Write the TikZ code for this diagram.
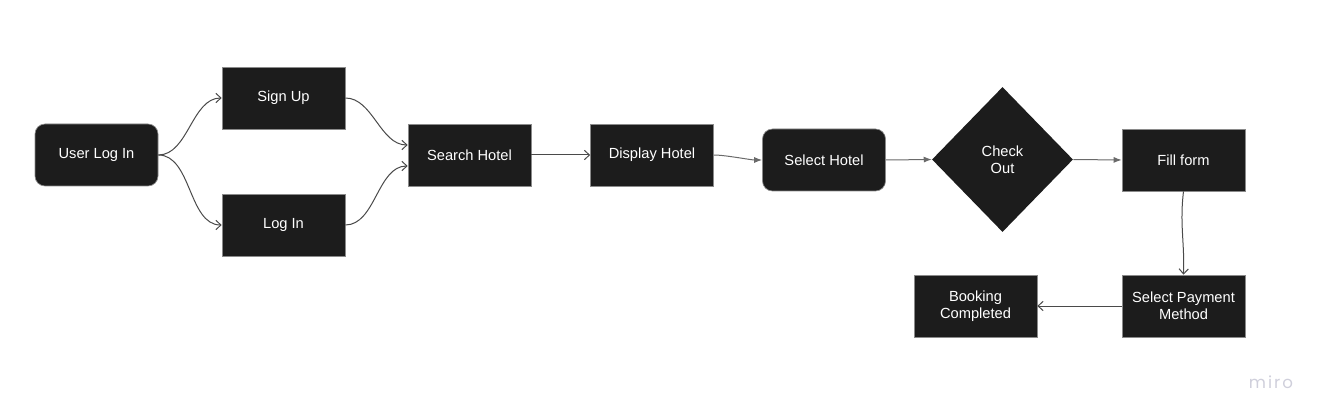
\documentclass[tikz,border=0pt]{standalone}
\usepackage{fontspec}
\setmainfont{Liberation Sans}
\newfontfamily\logofont[LetterSpace=12]{Poppins}
\usetikzlibrary{shapes.geometric,arrows.meta}
\definecolor{boxfill}{HTML}{1C1C1C}
\definecolor{boxline}{HTML}{8A8A8A}
\definecolor{linkdark}{HTML}{4A4A4A}
\definecolor{linklight}{HTML}{6A6A6A}
\definecolor{logocol}{HTML}{CFCFDB}
\tikzset{
  px/.style={x=0.75pt,y=-0.75pt},
  box/.style={draw=boxline,line width=0.5pt,fill=boxfill,text=white,
    minimum width=92.25pt,minimum height=46.5pt,inner sep=0pt,
    align=center,font=\fontsize{11}{12.5}\selectfont},
  roundbox/.style={box,rounded corners=7.5pt},
  decide/.style={diamond,fill=boxfill,text=white,inner sep=0pt,
    minimum width=105.75pt,minimum height=108.75pt,align=center,
    font=\fontsize{11}{12.5}\selectfont},
  openlink/.style={draw=linkdark,line width=0.75pt,
    -{Straight Barb[length=3.8pt,width=7pt]}},
  filledlink/.style={draw=linklight,line width=0.75pt,
    -{Latex[length=6pt,width=4.5pt]}},
}
\begin{document}
\begin{tikzpicture}[px]
\useasboundingbox (0,0) rectangle (1323,420);
\node[roundbox] (ulogin)  at (96.5,155)  {User Log In};
\node[box]      (signup)  at (283.5,98)  {Sign Up};
\node[box]      (login)   at (283.5,225) {Log In};
\node[box]      (search)  at (469.5,155) {Search Hotel};
\node[box]      (display) at (652,155)   {Display Hotel};
\node[roundbox] (select)  at (824,160)   {Select Hotel};
\node[decide]   (checkout) at (1002.5,159.5) {Check\\Out};
\node[box]      (fill)    at (1183.5,160) {Fill form};
\node[box]      (payment) at (1183.5,306) {Select Payment\\Method};
\node[box]      (booking) at (975.5,306)  {Booking\\Completed};
\node[text=logocol,font=\logofont\fontsize{12.5}{14}\selectfont,anchor=base] (logo) at (1271,388) {miro};

\draw[openlink] (ulogin.east) to[out=0,in=180,looseness=0.9] (signup.west);
\draw[openlink] (ulogin.east) to[out=0,in=180,looseness=0.9] (login.west);
\draw[openlink] (signup.east) to[out=0,in=180,looseness=0.9] ([yshift=7.5pt]search.west);
\draw[openlink] (login.east) to[out=0,in=180,looseness=0.9] ([yshift=-8.25pt]search.west);
\draw[openlink] (search.east) -- (display.west);
\draw[filledlink] (display.east) to[out=0,in=180,looseness=0.6] (select.west);
\draw[filledlink] (select.east) -- (checkout.west);
\draw[filledlink] (checkout.east) -- (fill.west);
\draw[openlink] (fill.south) to[out=-97,in=88] (payment.north);
\draw[openlink] (payment.west) -- (booking.east);
\end{tikzpicture}
\end{document}
